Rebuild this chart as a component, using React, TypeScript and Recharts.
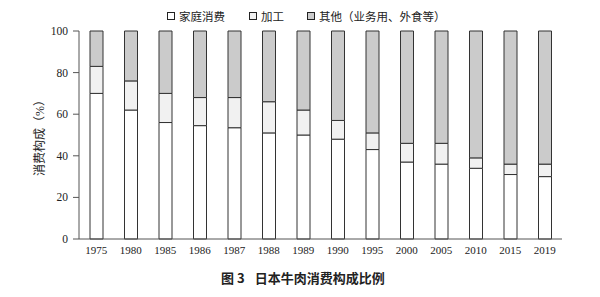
import React from 'react';
import { BarChart, Bar, XAxis, YAxis } from 'recharts';

const years = ['1975', '1980', '1985', '1986', '1987', '1988', '1989', '1990', '1995', '2000', '2005', '2010', '2015', '2019'];
const homeUse = [70, 62, 56, 54.5, 53.5, 51, 50, 48, 43, 37, 36, 34, 31, 30];
const processing = [13, 14, 14, 13.5, 14.5, 15, 12, 9, 8, 9, 10, 5, 5, 6];
const other = [17, 24, 30, 32, 32, 34, 38, 43, 49, 54, 54, 61, 64, 64];
const yTicks = [0, 20, 40, 60, 80, 100];

const seriesNames = ['家庭消费', '加工', '其他（业务用、外食等）'];
const seriesColors = ['#ffffff', '#f1f1f1', '#cbcbcb'];

const data = years.map((y, i) => ({
  year: y,
  home: homeUse[i],
  proc: processing[i],
  other: other[i],
}));

const serif = '"Liberation Serif", "Noto Sans CJK SC", serif';
const frame = '#555555';
const barStroke = '#333333';

const legendPos = [167, 249, 307];

export default function App() {
  return (
    <div style={{ position: 'absolute', left: 0, top: 0, width: 600, height: 297, background: '#fff' }}>
      <BarChart
        width={600}
        height={297}
        data={data}
        margin={{ top: 31, right: 38, bottom: 28, left: 0 }}
        barSize={13}
      >
        <XAxis
          dataKey="year"
          tickLine={false}
          tickSize={0}
          tickMargin={7}
          height={30}
          axisLine={{ stroke: frame }}
          tick={{ fontFamily: serif, fontSize: 11, fill: '#222' }}
          interval={0}
        />
        <XAxis xAxisId="top" orientation="top" dataKey="year" tick={false} tickLine={false} height={0} axisLine={{ stroke: frame }} />
        <YAxis
          type="number"
          domain={[0, 100]}
          ticks={yTicks}
          width={79}
          tickSize={6}
          tickMargin={5}
          axisLine={{ stroke: frame }}
          tickLine={{ stroke: frame }}
          tick={{ fontFamily: serif, fontSize: 11.5, fill: '#222' }}
          label={{
            content: (props: any) => {
              const vb = props.viewBox || { x: 0, y: 31, width: 79, height: 208 };
              const cx = 40;
              const cy = vb.y + vb.height / 2;
              return (
                <text
                  x={cx}
                  y={cy}
                  transform={`rotate(-90, ${cx}, ${cy})`}
                  textAnchor="middle"
                  dominantBaseline="central"
                  style={{ fontFamily: serif, fontSize: 12, fill: '#222' }}
                >
                  消费构成（%）
                </text>
              );
            },
          }}
        />
        <YAxis yAxisId="right" orientation="right" type="number" domain={[0, 100]} tick={false} tickLine={false} width={0} axisLine={{ stroke: frame }} />
        <Bar dataKey="home" stackId="a" fill={seriesColors[0]} stroke={barStroke} strokeWidth={1} isAnimationActive={false} />
        <Bar dataKey="proc" stackId="a" fill={seriesColors[1]} stroke={barStroke} strokeWidth={1} isAnimationActive={false} />
        <Bar dataKey="other" stackId="a" fill={seriesColors[2]} stroke={barStroke} strokeWidth={1} isAnimationActive={false} />
      </BarChart>
      {seriesNames.map((name, i) => (
        <div
          key={name}
          style={{
            position: 'absolute',
            left: legendPos[i],
            top: 8,
            height: 16,
            display: 'flex',
            alignItems: 'center',
            whiteSpace: 'nowrap',
            fontFamily: serif,
            fontSize: 11.5,
            color: '#222',
          }}
        >
          <span
            style={{
              display: 'inline-block',
              width: 6,
              height: 6,
              border: '1px solid #222',
              background: seriesColors[i],
              marginRight: 4,
            }}
          />
          <span>{name}</span>
        </div>
      ))}
      <div
        style={{
          position: 'absolute',
          left: 221,
          top: 269,
          whiteSpace: 'nowrap',
          fontFamily: '"Noto Sans CJK SC", sans-serif',
          fontWeight: 'bold',
          fontSize: 13,
          color: '#222',
          lineHeight: '18px',
        }}
      >
        <span>图 3</span>
        <span style={{ display: 'inline-block', width: 10 }} />
        <span>日本牛肉消费构成比例</span>
      </div>
    </div>
  );
}
